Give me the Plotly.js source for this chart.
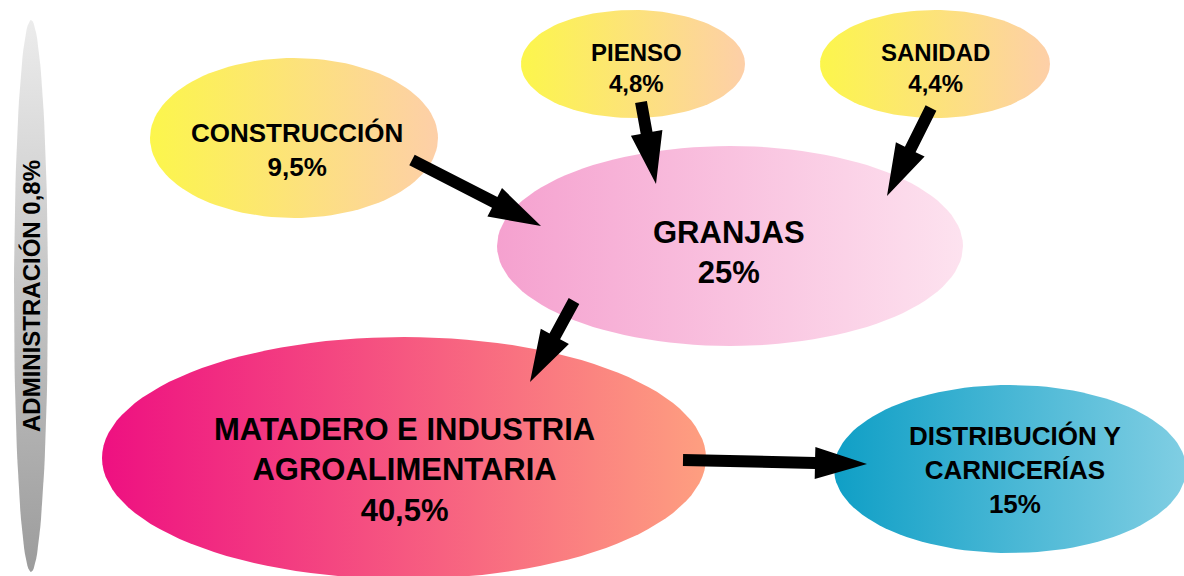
<!DOCTYPE html>
<html>
<head>
<meta charset="utf-8">
<script src="https://cdn.plot.ly/plotly-3.0.1.min.js"></script>
<style>
  html, body { margin: 0; padding: 0; background: #fff; }
  #chart { width: 1184px; height: 576px; }
</style>
</head>
<body>
<div id="chart"></div>
<script>
// === Data: cuota de cada sector ===
const sectors = ['ADMINISTRACIÓN', 'CONSTRUCCIÓN', 'PIENSO', 'SANIDAD', 'GRANJAS',
  'MATADERO E INDUSTRIA<br>AGROALIMENTARIA', 'DISTRIBUCIÓN Y<br>CARNICERÍAS'];
const shares = [0.8, 9.5, 4.8, 4.4, 25, 40.5, 15];

// flujos entre sectores (índices en sectors)
const flowFrom = [1, 2, 3, 4, 5];
const flowTo = [4, 4, 4, 5, 6];

// === Layout de las burbujas (px) ===
const bubbles = [
  { cx: 31, cy: 296, rx: 17, ry: 276, tx: 31, ty: 296, size: 24, dir: 'vertical', c: ['#9c9c9c', '#ececec'] },
  { cx: 294, cy: 138, rx: 144, ry: 80, tx: 297, ty: 150, size: 26, dir: 'horizontal', c: ['#fcf64c', '#fdcfa8'] },
  { cx: 633, cy: 64, rx: 112, ry: 54, tx: 636, ty: 68, size: 24, dir: 'horizontal', c: ['#fcf64c', '#fdcfa8'] },
  { cx: 935, cy: 64, rx: 115, ry: 54, tx: 935, ty: 68, size: 24, dir: 'horizontal', c: ['#fcf64c', '#fdcfa8'] },
  { cx: 730, cy: 246, rx: 233, ry: 100, tx: 729, ty: 252, size: 31, dir: 'horizontal', c: ['#f5a1cf', '#fde2ef'] },
  { cx: 404, cy: 458, rx: 302, ry: 121, tx: 404, ty: 470, size: 31, dir: 'horizontal', c: ['#ee1081', '#fe9f80'] },
  { cx: 1010, cy: 469, rx: 176, ry: 84, tx: 1015, ty: 470, size: 26, dir: 'horizontal', c: ['#0f9fc6', '#80cee3'] }
];

// === Layout de las flechas (px): inicio -> punta ===
const arrows = [
  { x0: 412, y0: 160, x1: 541, y1: 226 },
  { x0: 641, y0: 102, x1: 656, y1: 184 },
  { x0: 931, y0: 108, x1: 887, y1: 196 },
  { x0: 574, y0: 301, x1: 530, y1: 382 },
  { x0: 683, y0: 460, x1: 867, y1: 464 }
];

function fmt(v) {
  return String(v).replace('.', ',') + '%';
}

function ellipse(b) {
  const x = [], y = [];
  for (let i = 0; i <= 120; i++) {
    const t = 2 * Math.PI * i / 120;
    x.push(b.cx + b.rx * Math.cos(t));
    y.push(b.cy + b.ry * Math.sin(t));
  }
  return {
    x: x, y: y,
    type: 'scatter',
    mode: 'lines',
    fill: 'toself',
    line: { width: 0, color: 'rgba(0,0,0,0)' },
    fillgradient: { type: b.dir, colorscale: [[0, b.c[0]], [1, b.c[1]]] },
    hoverinfo: 'skip',
    showlegend: false
  };
}

function arrowPath(a, w = 12, hw = 32, hl = 52) {
  const dx = a.x1 - a.x0, dy = a.y1 - a.y0;
  const len = Math.hypot(dx, dy);
  const ux = dx / len, uy = dy / len;
  const nx = -uy, ny = ux;
  const bx = a.x1 - ux * hl, by = a.y1 - uy * hl;
  const pts = [
    [a.x0 + nx * w / 2, a.y0 + ny * w / 2],
    [bx + nx * w / 2, by + ny * w / 2],
    [bx + nx * hw / 2, by + ny * hw / 2],
    [a.x1, a.y1],
    [bx - nx * hw / 2, by - ny * hw / 2],
    [bx - nx * w / 2, by - ny * w / 2],
    [a.x0 - nx * w / 2, a.y0 - ny * w / 2]
  ];
  return 'M' + pts.map(p => p[0].toFixed(1) + ',' + p[1].toFixed(1)).join(' L') + ' Z';
}

const traces = bubbles.map(ellipse);

const shapes = flowFrom.map((f, i) => ({
  type: 'path',
  xref: 'x', yref: 'y',
  path: arrowPath(arrows[i]),
  fillcolor: '#000',
  line: { width: 0 },
  layer: 'above'
}));

const annotations = sectors.map((s, i) => {
  const b = bubbles[i];
  const text = i === 0 ? s + ' ' + fmt(shares[i]) : s + '<br>' + fmt(shares[i]);
  return {
    x: b.tx, y: b.ty,
    xref: 'x', yref: 'y',
    text: '<b>' + text + '</b>',
    showarrow: false,
    textangle: i === 0 ? -90 : 0,
    align: 'center',
    font: { family: 'Liberation Sans, Arial, sans-serif', size: b.size, color: '#000' }
  };
});

const layout = {
  width: 1184,
  height: 576,
  margin: { l: 0, r: 0, t: 0, b: 0 },
  paper_bgcolor: '#fff',
  plot_bgcolor: '#fff',
  xaxis: { range: [0, 1184], visible: false, fixedrange: true },
  yaxis: { range: [576, 0], visible: false, fixedrange: true },
  shapes: shapes,
  annotations: annotations,
  showlegend: false
};

Plotly.newPlot('chart', traces, layout, { displayModeBar: false, staticPlot: true });
</script>
</body>
</html>
